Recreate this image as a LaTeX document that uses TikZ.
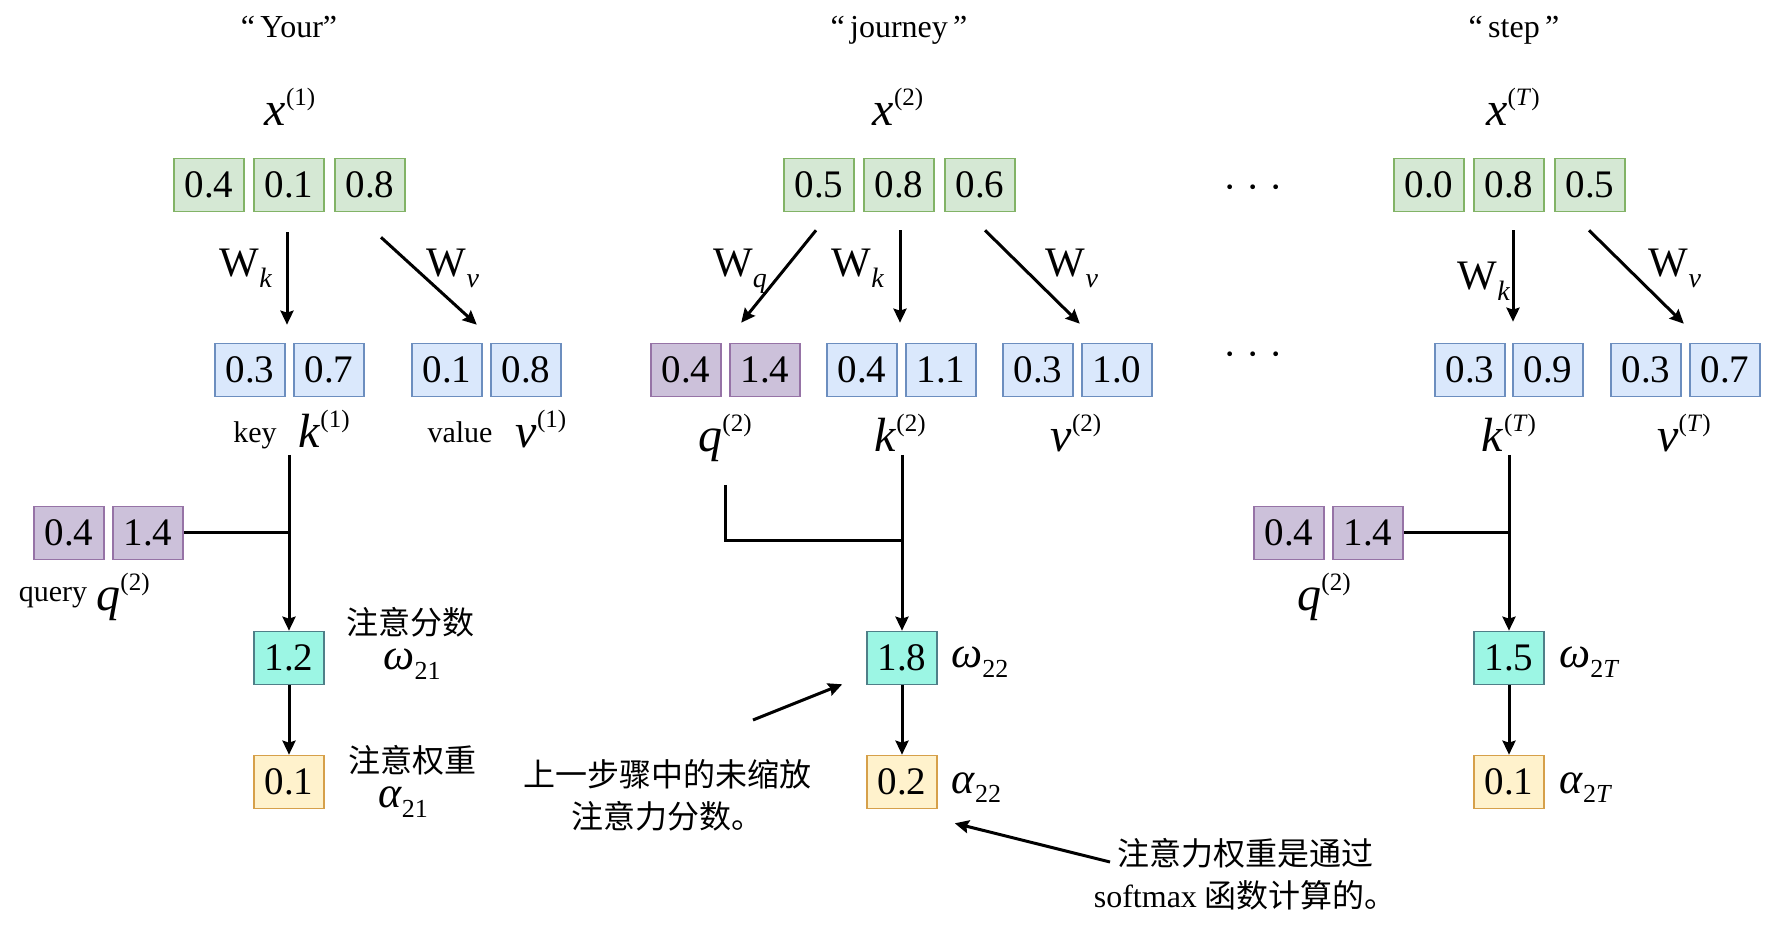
\documentclass[tikz,border=0pt]{standalone}
\usepackage{fontspec}
\setmainfont{Liberation Serif}
\newfontfamily\cjk{Noto Sans CJK SC}
\usetikzlibrary{arrows.meta,calc}

\definecolor{xfill}{HTML}{D5E8D4}
\definecolor{xline}{HTML}{82B366}
\definecolor{kfill}{HTML}{DAE8FC}
\definecolor{kline}{HTML}{6C8EBF}
\definecolor{qfill}{HTML}{CCC1DA}
\definecolor{qline}{HTML}{9673A6}
\definecolor{wfill}{HTML}{9CF6E4}
\definecolor{wline}{HTML}{4F7F88}
\definecolor{afill}{HTML}{FFF2CC}
\definecolor{aline}{HTML}{D6A04A}

\def\boxw{35pt}
\def\boxh{26.5pt}

% italic symbol with (index) above
\newcommand{\vecl}[2]{\textit{#1}\raisebox{10pt}{\fontsize{12.5}{12.5}\selectfont(#2)}}
% weight matrix with subscript
\newcommand{\wmat}[1]{W\raisebox{-5.5pt}{\fontsize{14}{14}\selectfont\textit{#1}}}
% score / weight with subscript
\newcommand{\sclab}[2]{\textit{#1}\raisebox{-5pt}{\fontsize{13}{13}\selectfont#2}}

\begin{document}
\begin{tikzpicture}[x=0.5pt, y=-0.5pt,
    cell/.style={draw, line width=0.8pt, minimum width=\boxw, minimum height=\boxh, inner sep=0pt, font=\fontsize{19.5}{19.5}\selectfont},
    xcell/.style={cell, fill=xfill, draw=xline},
    kcell/.style={cell, fill=kfill, draw=kline},
    qcell/.style={cell, fill=qfill, draw=qline},
    wcell/.style={cell, fill=wfill, draw=wline},
    acell/.style={cell, fill=afill, draw=aline},
    flow/.style={-{Stealth[length=7pt,width=6.5pt,inset=1pt]}, line width=1.5pt},
    wire/.style={line width=1.5pt},
    titletext/.style={anchor=base, inner sep=0pt, font=\fontsize{16}{16}\selectfont},
    symtext/.style={anchor=base, inner sep=0pt, font=\fontsize{24}{24}\selectfont},
    wtext/.style={anchor=base, inner sep=0pt, font=\fontsize{21}{21}\selectfont},
    tagtext/.style={anchor=base, inner sep=0pt, font=\fontsize{15}{15}\selectfont},
    sctext/.style={anchor=base, inner sep=0pt, font=\fontsize{22}{22}\selectfont},
    cjktext/.style={align=center, inner sep=0pt, font=\cjk\fontsize{16}{21}\selectfont},
    ellip/.style={inner sep=0pt, font=\fontsize{20}{20}\selectfont}]
    \useasboundingbox (0,0) rectangle (1772,929);

    % token 1: input
    \node[titletext] (t1) at (289,38) {“\,Your”};
    \node[symtext] (x1lab) at (290,126) {\vecl{x}{1}};
    \node[xcell] (x1a) at (209,185) {0.4};
    \node[xcell] (x1b) at (289,185) {0.1};
    \node[xcell] (x1c) at (370,185) {0.8};
    % token 1: key and value
    \node[kcell] (k1a) at (250,370) {0.3};
    \node[kcell] (k1b) at (329,370) {0.7};
    \node[kcell] (v1a) at (447,370) {0.1};
    \node[kcell] (v1b) at (526,370) {0.8};
    \draw[flow] ($(x1b.south)+(-2,20)$) -- ($(x1b.south |- k1a.north)+(-2,-18)$);
    \draw[flow] ($(x1c.south)+(11,25)$) -- ($(v1a.north east)+(-6,-18)$);
    \node[wtext] (wk1) at (246,277) {\wmat{k}};
    \node[wtext] (wv1) at (453,277) {\wmat{v}};
    \node[tagtext] (keytag) at (255,443) {key};
    \node[symtext] (k1lab) at (324,448) {\vecl{k}{1}};
    \node[tagtext] (valtag) at (460,443) {value};
    \node[symtext] (v1lab) at (541,448) {\vecl{v}{1}};

    % query 2 against key 1
    \node[qcell] (q1a) at (69,533) {0.4};
    \node[qcell] (q1b) at (148,533) {1.4};
    \node[tagtext] (qrytag) at (53,602) {query};
    \node[symtext] (q1lab) at (123,611) {\vecl{q}{2}};
    \node[wcell] (w21) at (289,658) {1.2};
    \node[acell] (a21) at (289,782) {0.1};
    \coordinate (k1tail) at (289,455);
    \draw[flow] (k1tail) -- (w21.north);
    \draw[wire] (q1b.east) -- (q1b.east -| w21.north);
    \draw[flow] (w21) -- (a21);
    \node[cjktext] (w21cn) at (410,622) {注意分数};
    \node[sctext] (w21lab) at (412,670) {\sclab{ω}{21}};
    \node[cjktext] (a21cn) at (412,760) {注意权重};
    \node[sctext] (a21lab) at (403,807) {\sclab{α}{21}};

    % token 2: input
    \node[titletext] (t2) at (899,38) {“\,journey\,”};
    \node[symtext] (x2lab) at (898,126) {\vecl{x}{2}};
    \node[xcell] (x2a) at (819,185) {0.5};
    \node[xcell] (x2b) at (899,185) {0.8};
    \node[xcell] (x2c) at (980,185) {0.6};
    % token 2: query, key and value
    \node[qcell] (q2a) at (686,370) {0.4};
    \node[qcell] (q2b) at (765,370) {1.4};
    \node[kcell] (k2a) at (862,370) {0.4};
    \node[kcell] (k2b) at (941,370) {1.1};
    \node[kcell] (v2a) at (1038,370) {0.3};
    \node[kcell] (v2b) at (1117,370) {1.0};
    \draw[flow] ($(x2a.south)+(-3,18)$) -- ($(q2b.north west)+(12,-20)$);
    \draw[flow] ($(x2b.south)+(1,18)$) -- ($(x2b.south |- k2a.north)+(1,-20)$);
    \draw[flow] ($(x2c.south)+(5,18)$) -- ($(v2a.north east)+(6,-19)$);
    \node[wtext] (wq2) at (740,277) {\wmat{q}};
    \node[wtext] (wk2) at (858,277) {\wmat{k}};
    \node[wtext] (wv2) at (1072,277) {\wmat{v}};
    \node[symtext] (q2lab) at (725,452) {\vecl{q}{2}};
    \node[symtext] (k2lab) at (900,452) {\vecl{k}{2}};
    \node[symtext] (v2lab) at (1076,452) {\vecl{v}{2}};
    % query 2 against key 2
    \node[wcell] (w22) at (902,658) {1.8};
    \node[acell] (a22) at (902,782) {0.2};
    \coordinate (q2tail) at (725,485);
    \coordinate (k2tail) at (902,455);
    \coordinate (qk2join) at (902,541);
    \draw[wire] (q2tail) |- (qk2join);
    \draw[flow] (k2tail) -- (w22.north);
    \draw[flow] (w22) -- (a22);
    \node[sctext, anchor=base west] (w22lab) at (951,668) {\sclab{ω}{22}};
    \node[sctext, anchor=base west] (a22lab) at (951,793) {\sclab{α}{22}};

    % notes
    \node[cjktext] (note1) at (667,795) {上一步骤中的未缩放\\注意力分数。};
    \coordinate (note1from) at (753,720);
    \draw[flow] (note1from) -- ($(w22.south west)+(-24,-1)$);
    \node[cjktext] (note2) at (1245,874) {注意力权重是通过\\{\rmfamily softmax} 函数计算的。};
    \coordinate (note2from) at (1110,862);
    \draw[flow] (note2from) -- ($(a22.south east)+(17,14)$);

    % skipped tokens
    \node[ellip] (gap1) at (1253,193) {· · ·};
    \node[ellip] (gap2) at (1253,360) {· · ·};

    % token T: input
    \node[titletext] (t3) at (1514,38) {“\,step\,”};
    \node[symtext] (x3lab) at (1513,126) {\vecl{x}{\textit{T}}};
    \node[xcell] (x3a) at (1429,185) {0.0};
    \node[xcell] (x3b) at (1509,185) {0.8};
    \node[xcell] (x3c) at (1590,185) {0.5};
    % token T: key and value
    \node[kcell] (k3a) at (1470,370) {0.3};
    \node[kcell] (k3b) at (1548,370) {0.9};
    \node[kcell] (v3a) at (1646,370) {0.3};
    \node[kcell] (v3b) at (1725,370) {0.7};
    \draw[flow] ($(x3b.south)+(4,18)$) -- ($(x3b.south |- k3a.north)+(4,-21)$);
    \draw[flow] ($(x3c.south)+(-1,18)$) -- ($(v3a.north east)+(2,-19)$);
    \node[wtext] (wk3) at (1484,290) {\wmat{k}};
    \node[wtext] (wv3) at (1675,277) {\wmat{v}};
    \node[symtext] (k3lab) at (1509,452) {\vecl{k}{\textit{T}}};
    \node[symtext] (v3lab) at (1684,452) {\vecl{v}{\textit{T}}};
    % query 2 against key T
    \node[qcell] (q3a) at (1289,533) {0.4};
    \node[qcell] (q3b) at (1368,533) {1.4};
    \node[symtext] (q3lab) at (1324,611) {\vecl{q}{2}};
    \node[wcell] (w2T) at (1509,658) {1.5};
    \node[acell] (a2T) at (1509,782) {0.1};
    \coordinate (k3tail) at (1509,455);
    \draw[flow] (k3tail) -- (w2T.north);
    \draw[wire] (q3b.east) -- (q3b.east -| w2T.north);
    \draw[flow] (w2T) -- (a2T);
    \node[sctext, anchor=base west] (w2Tlab) at (1559,668) {\sclab{ω}{2\textit{T}}};
    \node[sctext, anchor=base west] (a2Tlab) at (1559,793) {\sclab{α}{2\textit{T}}};
\end{tikzpicture}
\end{document}
